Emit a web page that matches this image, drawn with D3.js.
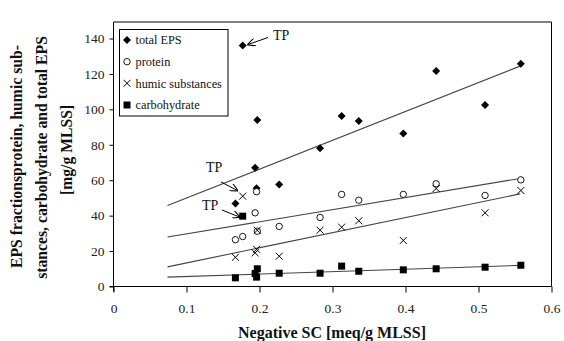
<!DOCTYPE html>
<html><head><meta charset="utf-8">
<script src="https://cdn.jsdelivr.net/npm/d3@7"></script>
<style>body{margin:0;background:#fff}svg{display:block}</style>
</head><body>
<svg id="c" width="564" height="341"></svg>
<script>
const xValues = [0.167, 0.177, 0.194, 0.196, 0.197, 0.227, 0.283, 0.3125, 0.336, 0.397, 0.442, 0.509, 0.558];
const totalEPS = [46.9, 136, 67, 55.5, 94, 57.6, 78, 96.2, 93.4, 86.4, 121.6, 102.4, 125.7];
const protein = [26.4, 28.2, 41.6, 53.5, 31.2, 33.9, 39, 52, 48.7, 52, 58, 51.4, 60.2];
const humic = [16.5, 51, 19, 21, 31.8, 17.1, 31.8, 33.5, 37.1, 26, 55.3, 41.6, 54.2];
const carbohydrate = [4.9, 39.7, 7.3, 5.3, 10, 7.5, 7.5, 11.5, 8.6, 9.4, 10, 10.9, 12];
const trendX = [0.074, 0.557];
const trendTotal = [45.7, 124.4];
const trendProtein = [27.9, 61];
const trendHumic = [11.1, 52.3];
const trendCarb = [5.3, 11.9];
const seriesNames = ["total EPS", "protein", "humic substances", "carbohydrate"];
const xTicks = [0, 0.1, 0.2, 0.3, 0.4, 0.5, 0.6];
const yTicks = [0, 20, 40, 60, 80, 100, 120, 140];

const svg = d3.select("#c");
const L = 113.5, R = 551.5, T = 22, B = 286.5;
const x = d3.scaleLinear().domain([0, 0.6]).range([L, R]);
const y = d3.scaleLinear().domain([0, 140]).range([B, B - 248]);
const serif = "'Liberation Serif','Times New Roman',serif";

// frame (top & right)
svg.append("path").attr("d", `M${L},${T}H${R}V${B}`).attr("fill","none").attr("stroke","#000").attr("stroke-width",1);

const xAxis = svg.append("g").attr("transform", `translate(0,${B})`)
  .call(d3.axisBottom(x).tickValues(xTicks).tickFormat(d => d === 0 ? "0" : d3.format(".1f")(d)).tickSizeInner(6).tickSizeOuter(0).tickPadding(12));
const yAxis = svg.append("g").attr("transform", `translate(${L},0)`)
  .call(d3.axisLeft(y).tickValues(yTicks).tickSizeInner(4).tickSizeOuter(0).tickPadding(5));
yAxis.select(".domain").attr("d", `M0,${T}V${B + 5}`);
xAxis.select(".domain").attr("d", `M${L - 4},0H${R}`);
[xAxis, yAxis].forEach(a => {
  a.selectAll("text").attr("font-family", serif).attr("font-size", 13.5).attr("fill", "#222");
  a.selectAll("line,path").attr("stroke", "#000");
});
xAxis.selectAll(".tick text").attr("dy", "0.32em").attr("y", 22);

// trend lines
const trends = [trendTotal, trendProtein, trendHumic, trendCarb];
trends.forEach(t => {
  svg.append("line")
    .attr("x1", x(trendX[0])).attr("y1", y(t[0]))
    .attr("x2", x(trendX[1])).attr("y2", y(t[1]))
    .attr("stroke", "#444").attr("stroke-width", 1.1);
});

// markers
function marker(g, type) {
  if (type === 0) g.append("path").attr("d", "M0,-4L4,0L0,4L-4,0Z").attr("fill", "#000");
  else if (type === 1) g.append("circle").attr("r", 3.2).attr("fill", "#fff").attr("stroke", "#000").attr("stroke-width", 0.9);
  else if (type === 2) g.append("path").attr("d", "M-3.5,-3.5L3.5,3.5M-3.5,3.5L3.5,-3.5").attr("stroke", "#000").attr("stroke-width", 1);
  else g.append("rect").attr("x", -3.5).attr("y", -3.5).attr("width", 7).attr("height", 7).attr("fill", "#000");
}
const allSeries = [totalEPS, protein, humic, carbohydrate];
allSeries.forEach((s, k) => {
  s.forEach((v, i) => {
    const g = svg.append("g").attr("transform", `translate(${x(xValues[i])},${y(v)})`);
    marker(g, k);
  });
});

// legend
svg.append("rect").attr("x", 119.5).attr("y", 29.5).attr("width", 108.5).attr("height", 86.5)
  .attr("fill", "#fff").attr("stroke", "#000").attr("stroke-width", 1);
const legY = [40, 61.7, 83.3, 105];
seriesNames.forEach((n, k) => {
  const g = svg.append("g").attr("transform", `translate(127,${legY[k]})`);
  marker(g, k);
  svg.append("text").attr("x", 135.5).attr("y", legY[k]).attr("dy", "0.35em")
    .attr("font-family", serif).attr("font-size", 12.3).attr("fill", "#111").text(n);
});

// TP annotations
const defs = svg.append("defs");
defs.append("marker").attr("id", "ah").attr("viewBox", "0 0 10 10").attr("refX", 9).attr("refY", 5)
  .attr("markerWidth", 8).attr("markerHeight", 8).attr("orient", "auto").attr("markerUnits", "userSpaceOnUse")
  .append("path").attr("d", "M0,0L10,5L0,10").attr("fill", "none").attr("stroke", "#000").attr("stroke-width", 1.3);
const ann = [
  {tx: 273, ty: 35, x1: 268, y1: 37.5, x2: 248, y2: 44.5},
  {tx: 206, ty: 167, x1: 221, y1: 182, x2: 237.5, y2: 190.5},
  {tx: 202, ty: 205.5, x1: 222, y1: 210, x2: 239.5, y2: 217}
];
ann.forEach(a => {
  svg.append("text").attr("x", a.tx).attr("y", a.ty).attr("dy", "0.35em").attr("font-family", serif)
    .attr("font-size", 14).attr("fill", "#111").text("TP");
  svg.append("line").attr("x1", a.x1).attr("y1", a.y1).attr("x2", a.x2).attr("y2", a.y2)
    .attr("stroke", "#000").attr("stroke-width", 1).attr("marker-end", "url(#ah)");
});

// axis titles
svg.append("text").attr("x", 332).attr("y", 332).attr("dy", "0.35em").attr("text-anchor", "middle")
  .attr("font-family", serif).attr("font-weight", "bold").attr("font-size", 16).attr("fill", "#111")
  .text("Negative SC [meq/g MLSS]");
const yt = [["EPS fractionsprotein, humic sub-", 16, 156.5], ["stances, carbohydrate and total EPS", 41, 157.5], ["[mg/g MLSS]", 66, 150]];
yt.forEach(([t, cx, cy]) => {
  svg.append("text").attr("transform", `translate(${cx},${cy}) rotate(-90)`).attr("dy", "0.35em")
    .attr("text-anchor", "middle").attr("font-family", serif).attr("font-weight", "bold")
    .attr("font-size", 15.7).attr("fill", "#111").text(t);
});
</script>
</body></html>
